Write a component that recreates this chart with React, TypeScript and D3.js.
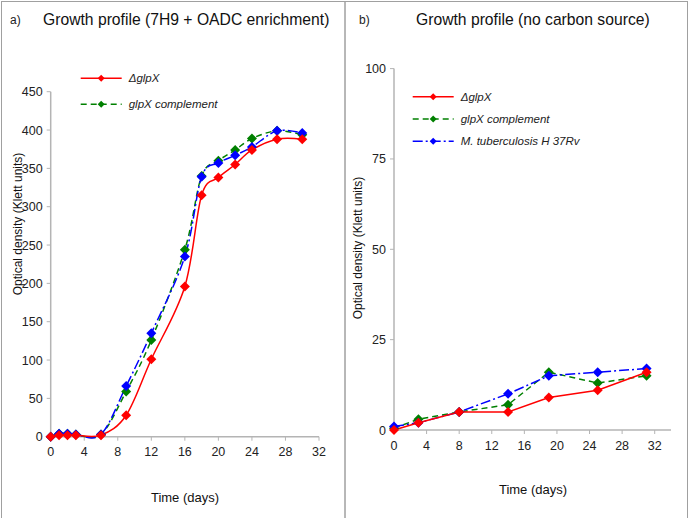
import React from "react";
import * as d3 from "d3";

// ---------- data ----------
const leftDays = [0, 1, 2, 3, 6, 9, 12, 16, 18, 20, 22, 24, 27, 30];
const leftDelta = [0, 2, 2, 2, 2, 28, 101, 196, 315, 338, 355, 374, 388, 388];
const leftComplement = [0, 4, 4, 3, 3, 59, 126, 244, 340, 360, 374, 389, 399, 394];
const leftH37Rv = [0, 4, 4, 3, 3, 66, 135, 235, 339, 357, 367, 378, 399, 396];

const rightDays = [0, 3, 8, 14, 19, 25, 31];
const rightDelta = [0, 2, 5, 5, 9, 11, 16];
const rightComplement = [0.5, 3, 5, 7, 16, 13, 15];
const rightH37Rv = [1, 2, 5, 10, 15, 16, 17];

const xTicks = [0, 4, 8, 12, 16, 20, 24, 28, 32];
const leftYTicks = [0, 50, 100, 150, 200, 250, 300, 350, 400, 450];
const rightYTicks = [0, 25, 50, 75, 100];

const seriesNames = ["ΔglpX", "glpX complement", "M. tuberculosis H 37Rv"];
const titles = ["Growth profile (7H9 + OADC enrichment)", "Growth profile (no carbon source)"];
const panelTags = ["a)", "b)"];
const xLabel = "Time (days)";
const yLabel = "Optical density (Klett units)";

// ---------- styles ----------
const COLORS = ["#ff0000", "#008000", "#0000ff"];
const DASH = [null, "6,4", "10,3,2,3"];
const FONT = "'Liberation Sans', Arial, sans-serif";
const AXIS = "#b4b4b4";

function diamond(cx: number, cy: number, r: number) {
  return `M${cx},${cy - r}L${cx + r},${cy}L${cx},${cy + r}L${cx - r},${cy}Z`;
}

type PanelProps = {
  x0: number; x1: number; xMax: number;
  y0: number; y1: number; yMax: number;
  yTicks: number[];
  days: number[];
  series: number[][];
  smooth: boolean;
  tickLabelDy: number;
};

function Panel(p: PanelProps) {
  const x = d3.scaleLinear().domain([0, p.xMax]).range([p.x0, p.x1]);
  const y = d3.scaleLinear().domain([0, p.yMax]).range([p.y0, p.y1]);
  const line = d3
    .line<number>()
    .x((_, i) => x(p.days[i]))
    .y((v) => y(v))
    .curve(p.smooth ? d3.curveCardinal.tension(0) : d3.curveLinear);
  const order = [1, 2, 0];
  return (
    <g>
      <line x1={p.x0} x2={p.x0} y1={y(p.yMax)} y2={p.y0} stroke={AXIS} strokeWidth={1.5} />
      <line x1={p.x0} x2={p.x1} y1={p.y0} y2={p.y0} stroke={AXIS} strokeWidth={1.5} />
      {p.yTicks.map((t) => (
        <g key={"y" + t}>
          <line x1={p.x0 - 4} x2={p.x0} y1={y(t)} y2={y(t)} stroke={AXIS} />
          <text x={p.x0 - 8} y={y(t) + 4.5} textAnchor="end" fontSize={12.5} fill="#222" fontFamily={FONT}>
            {t}
          </text>
        </g>
      ))}
      {xTicks.map((t) => (
        <g key={"x" + t}>
          <line x1={x(t)} x2={x(t)} y1={p.y0} y2={p.y0 + 4} stroke={AXIS} />
          <text x={x(t)} y={p.y0 + p.tickLabelDy} textAnchor="middle" fontSize={12.5} fill="#222" fontFamily={FONT}>
            {t}
          </text>
        </g>
      ))}
      {order.map((si) => (
        <path
          key={"l" + si}
          d={line(p.series[si]) || ""}
          fill="none"
          stroke={COLORS[si]}
          strokeWidth={1.5}
          strokeDasharray={DASH[si] || undefined}
        />
      ))}
      {order.map((si) => (
        <g key={"m" + si}>
          {p.series[si].map((v, i) => (
            <path key={i} d={diamond(x(p.days[i]), y(v), 5)} fill={COLORS[si]} />
          ))}
        </g>
      ))}
    </g>
  );
}

function Legend({ x, y, n, gap }: { x: number; y: number; n: number; gap: number }) {
  return (
    <g>
      {seriesNames.slice(0, n).map((name, i) => {
        const yy = y + i * gap;
        return (
          <g key={name}>
            <line x1={x} x2={x + 41} y1={yy} y2={yy} stroke={COLORS[i]} strokeWidth={1.5} strokeDasharray={DASH[i] || undefined} />
            <path d={diamond(x + 20.5, yy, 3.5)} fill={COLORS[i]} />
            <text x={x + 48} y={yy + 4} fontSize={11.5} fontStyle="italic" fill="#222" fontFamily={FONT}>
              {name}
            </text>
          </g>
        );
      })}
    </g>
  );
}

export default function App() {
  return (
    <svg width={689} height={518} style={{ position: "absolute", left: 0, top: 0, background: "#fff" }}>
      <rect x={0} y={0} width={689} height={518} fill="#fff" />
      <rect x={1.5} y={1.5} width={343.5} height={520} fill="none" stroke="#a0a0a0" />
      <rect x={345} y={1.5} width={342.5} height={520} fill="none" stroke="#a0a0a0" />

      <text x={10} y={24} fontSize={12} fill="#222" fontFamily={FONT}>{panelTags[0]}</text>
      <text x={43} y={25} fontSize={15.7} fill="#111" fontFamily={FONT}>{titles[0]}</text>
      <text x={359} y={24} fontSize={12} fill="#222" fontFamily={FONT}>{panelTags[1]}</text>
      <text x={416} y={25} fontSize={15.7} fill="#111" fontFamily={FONT}>{titles[1]}</text>

      <Panel
        x0={50.7} x1={319} xMax={32}
        y0={436.7} y1={91.7} yMax={450}
        yTicks={leftYTicks}
        days={leftDays}
        series={[leftDelta, leftComplement, leftH37Rv]}
        smooth={true}
        tickLabelDy={19}
      />
      <Panel
        x0={394} x1={671} xMax={34}
        y0={430} y1={68.6} yMax={100}
        yTicks={rightYTicks}
        days={rightDays}
        series={[rightDelta, rightComplement, rightH37Rv]}
        smooth={false}
        tickLabelDy={20}
      />

      <Legend x={80.7} y={78.3} n={2} gap={26} />
      <Legend x={412.7} y={96.7} n={3} gap={22.3} />

      <text x={185} y={502} textAnchor="middle" fontSize={13} fill="#111" fontFamily={FONT}>{xLabel}</text>
      <text x={533} y={494} textAnchor="middle" fontSize={13} fill="#111" fontFamily={FONT}>{xLabel}</text>
      <text transform="translate(22,224) rotate(-90)" textAnchor="middle" fontSize={12} fill="#111" fontFamily={FONT}>{yLabel}</text>
      <text transform="translate(362,248) rotate(-90)" textAnchor="middle" fontSize={12} fill="#111" fontFamily={FONT}>{yLabel}</text>
    </svg>
  );
}
